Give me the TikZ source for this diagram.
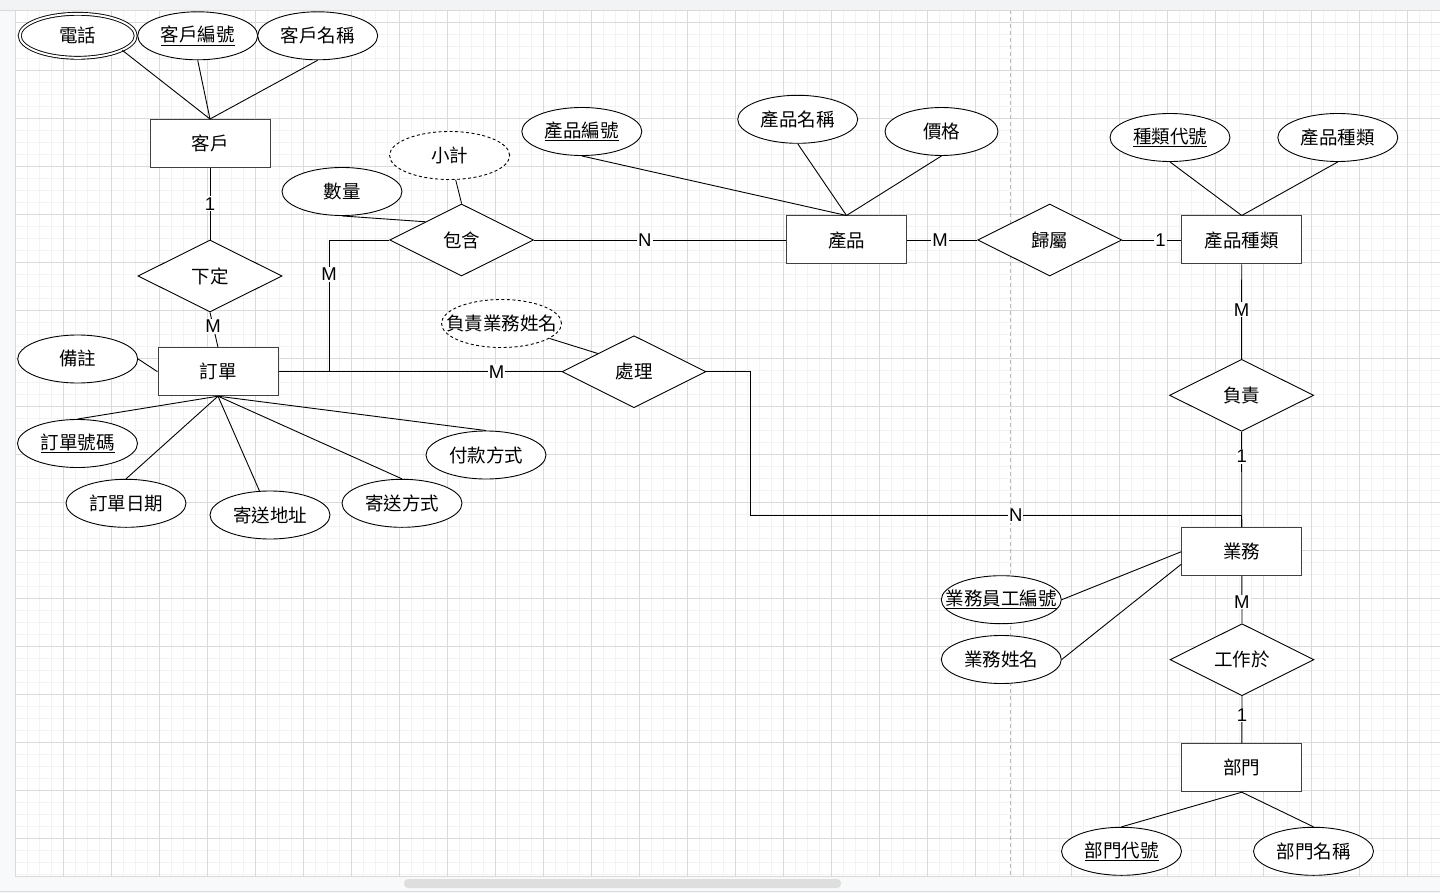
\documentclass[tikz,border=0pt]{standalone}
\usepackage{fontspec}
\setmainfont{Liberation Sans}
\newfontfamily\cjk{Noto Sans CJK TC}
\usepackage{tikz}
\usetikzlibrary{shapes.geometric}
\definecolor{gridmin}{RGB}{243,243,243}
\definecolor{gridmaj}{RGB}{218,218,218}
\definecolor{barcol}{RGB}{241,243,244}
\definecolor{sidecol}{RGB}{248,249,250}
\definecolor{scrollcol}{RGB}{222,222,222}

\begin{document}
\begin{tikzpicture}[x=1pt, y=-1pt,
    every node/.style={font=\cjk\fontsize{18.5}{22}\selectfont},
    entity/.style={draw=black!75, line width=1pt, fill=white, minimum width=120, minimum height=48},
    rel/.style={diamond, draw, line width=0.9pt, fill=white, aspect=2, inner sep=0pt, minimum width=144, minimum height=72},
    attr/.style={ellipse, draw, line width=0.9pt, fill=white, inner xsep=-18pt, inner ysep=0pt, minimum width=120, minimum height=48},
    multi/.style={attr, double, double distance=2pt, minimum width=116, minimum height=44},
    derived/.style={attr, dash pattern=on 3pt off 2.5pt},
    lbl/.style={fill=white, inner sep=1pt, font=\fontsize{18.5}{22}\selectfont},
    conn/.style={line width=0.9pt}]
      \useasboundingbox (0,0) rectangle (1440,893);
      \fill[sidecol] (0,0) rectangle (1440,893);
      \fill[barcol] (0,0) rectangle (1440,10);
      \fill[white] (15,10) rectangle (1440,876);
      \foreach \i in {0,...,118} \draw[gridmin, line width=0.8pt] ({15.5+12*\i},10) -- ({15.5+12*\i},876);
      \foreach \j in {0,...,72} \draw[gridmin, line width=0.8pt] (15,{10.3+12*\j}) -- (1440,{10.3+12*\j});
      \foreach \i in {0,...,29} \draw[gridmaj, line width=0.8pt] ({15.5+48*\i},10) -- ({15.5+48*\i},876);
      \foreach \j in {0,...,17} \draw[gridmaj, line width=0.8pt] (15,{22.3+48*\j}) -- (1440,{22.3+48*\j});
      \draw[gray!55, line width=0.8pt, dash pattern=on 4pt off 3pt] (1010,10) -- (1010,876);
      \draw[gridmaj, line width=0.8pt] (0,10) -- (1440,10);
      \draw[gridmaj, line width=0.8pt] (15,10) -- (15,876) -- (1440,876);
      \draw[gridmaj, line width=0.8pt] (0,891) -- (1440,891);
      \fill[scrollcol, rounded corners=4pt] (404,879) rectangle (841,888);

      \node[entity] (1) at (210,143.5) {客戶};
      \node[entity] (2) at (218,371.7) {訂單};
      \node[entity] (3) at (846.5,240) {產品};
      \node[entity] (4) at (1241.7,240) {產品種類};
      \node[entity] (5) at (1241.8,551.7) {業務};
      \node[entity] (6) at (1241.8,767.7) {部門};

      \node[rel] (7) at (210,276) {下定};
      \node[rel] (8) at (461.6,240) {包含};
      \node[rel] (9) at (634,371.7) {處理};
      \node[rel] (10) at (1049.7,240) {歸屬};
      \node[rel] (11) at (1241.6,395.3) {負責};
      \node[rel] (12) at (1242,659.7) {工作於};

      \node[multi] (13) at (77.7,35.8) {電話};
      \node[attr] (14) at (197.7,35.8) {\underline{客戶編號}};
      \node[attr] (15) at (317.7,35.8) {客戶名稱};
      \node[attr] (16) at (342,191.5) {數量};
      \node[derived] (17) at (449.6,155.5) {小計};
      \node[derived] (18) at (501.5,323.5) {負責業務姓名};
      \node[attr] (19) at (77.7,359) {備註};
      \node[attr] (20) at (77.5,443.5) {\underline{訂單號碼}};
      \node[attr] (21) at (126,503.3) {訂單日期};
      \node[attr] (22) at (270,515) {寄送地址};
      \node[attr] (23) at (402,503.3) {寄送方式};
      \node[attr] (24) at (486,455) {付款方式};
      \node[attr] (25) at (581.8,131.5) {\underline{產品編號}};
      \node[attr] (26) at (797.7,119.3) {產品名稱};
      \node[attr, minimum width=113] (27) at (941.5,131.5) {價格};
      \node[attr] (28) at (1170,137.5) {\underline{種類代號}};
      \node[attr] (29) at (1337.8,137.5) {產品種類};
      \node[attr] (30) at (1001.3,599.7) {\underline{業務員工編號}};
      \node[attr] (31) at (1001.3,659.5) {業務姓名};
      \node[attr] (32) at (1121.5,851.3) {\underline{部門代號}};
      \node[attr] (33) at (1313.5,851.3) {部門名稱};

      \draw[conn] (13.-18) -- (1.north);
      \draw[conn] (14.south) -- (1.north);
      \draw[conn] (15.south) -- (1.north);
      \draw[conn] (1.south) -- node[lbl]{1} (7.north);
      \draw[conn] (7.south) -- node[lbl, pos=0.4]{M} (2.north);
      \draw[conn] (19.east) -- (2.west);
      \draw[conn] (20.north) -- (2.south);
      \draw[conn] (21.north) -- (2.south);
      \draw[conn] (22) -- (2.south);
      \draw[conn] (23.north) -- (2.south);
      \draw[conn] (24.north) -- (2.south);
      \draw[conn] (16.south) -- (8.north west);
      \draw[conn] (17) -- (8.north);
      \draw[conn] (18) -- (9.north west);
      \draw[conn] (8.west) -- ++(-60,0) |- node[lbl, pos=0.13]{M} (2.east);
      \draw[conn] (2.east) -- node[lbl, pos=0.77]{M} (9.west);
      \draw[conn] (8.east) -- node[lbl, pos=0.44]{N} (3.west);
      \draw[conn] (25.south) -- (3.north);
      \draw[conn] (26.south) -- (3.north);
      \draw[conn] (27.south) -- (3.north);
      \draw[conn] (3.east) -- node[lbl, pos=0.47]{M} (10.west);
      \draw[conn] (10.east) -- node[lbl, pos=0.65]{1} (4.west);
      \draw[conn] (28.south) -- (4.north);
      \draw[conn] (29.south) -- (4.north);
      \draw[conn] (4.south) -- node[lbl, pos=0.48]{M} (11.north);
      \draw[conn] (11.south) -- node[lbl, pos=0.26]{1} (5.north);
      \draw[conn] (9.east) -- ++(44,0) |- node[lbl, pos=0.77]{N} ([yshift=12pt]5.north) -- (5.north);
      \draw[conn] (30.east) -- (5.west);
      \draw[conn] (31.east) -- ([yshift=-12.5pt]5.west);
      \draw[conn] (5.south) -- node[lbl, pos=0.55]{M} (12.north);
      \draw[conn] (12.south) -- node[lbl, pos=0.4]{1} (6.north);
      \draw[conn] (32.north) -- (6.south);
      \draw[conn] (33.north) -- (6.south);
\end{tikzpicture}
\end{document}
